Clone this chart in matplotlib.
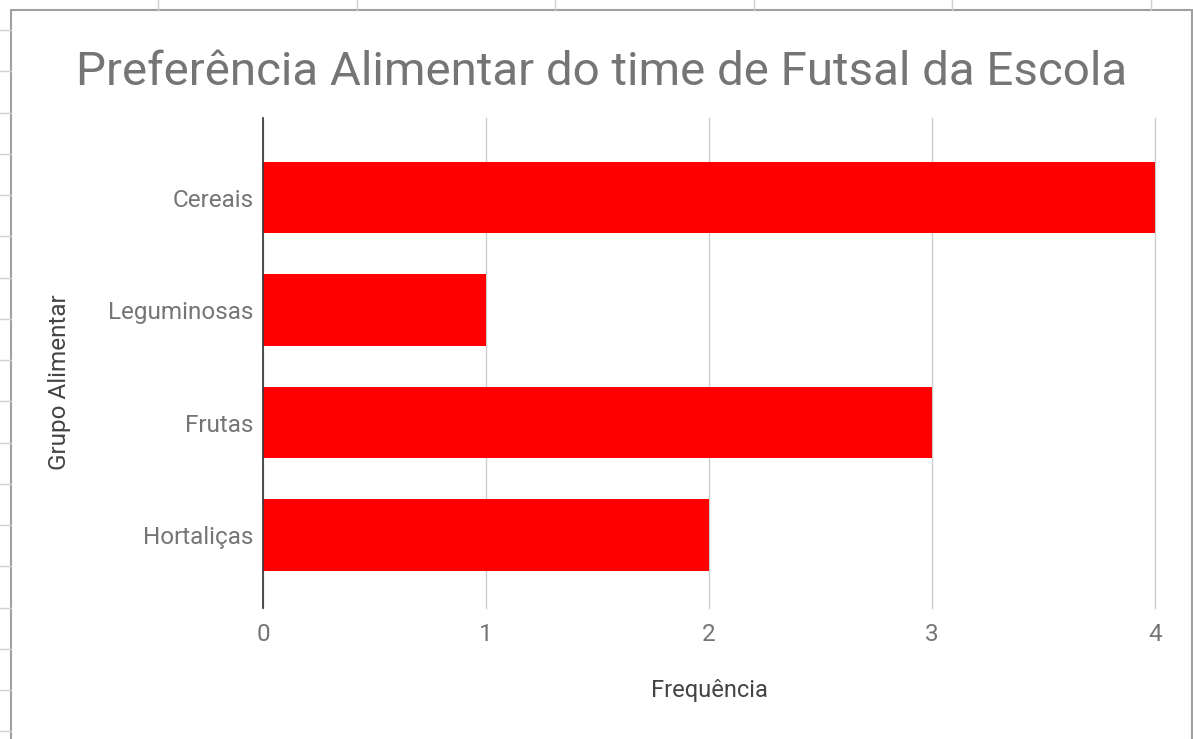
import numpy as np
import matplotlib
matplotlib.use("Agg")
import matplotlib.pyplot as plt
from matplotlib.patches import Rectangle
from matplotlib.lines import Line2D

# Dados
categorias = ["Cereais", "Leguminosas", "Frutas", "Hortaliças"]
frequencias = [4, 1, 3, 2]
xticks = [0, 1, 2, 3, 4]

plt.rcParams["font.family"] = ["Roboto", "DejaVu Sans"]

W, H = 1193, 739
fig = plt.figure(figsize=(W / 100, H / 100), dpi=100)

# fundo da planilha (linhas das células fora do gráfico)
for x in np.arange(158, W, 198.5):
    fig.add_artist(Line2D([x / W, x / W], [1, 1 - 10 / H], color="#d0d0d0", lw=1))
for y in np.arange(30, H, 41.25):
    fig.add_artist(Line2D([0, 11 / W], [1 - y / H, 1 - y / H], color="#d0d0d0", lw=1))

# moldura do gráfico
fig.add_artist(Rectangle((11 / W, -0.01), (W - 12) / W, 1 - 10 / H + 0.01,
                         transform=fig.transFigure, fill=False,
                         edgecolor="#a0a0a0", lw=1.5))

ax = fig.add_axes([263 / W, 1 - 608 / H, (1155 - 263) / W, (608 - 118) / H])

y = np.arange(len(categorias))
ax.barh(y, frequencias, height=0.635, color="#ff0000", zorder=3)

ax.set_xlim(0, 4)
ax.set_ylim(3.65, -0.71)
ax.set_xticks(xticks)
ax.set_xticklabels([str(t) for t in xticks])
ax.set_yticks(y)
ax.set_yticklabels(categorias)

ax.grid(axis="x", color="#cccccc", lw=1, zorder=0)
for gl in ax.get_xgridlines():
    gl.set_clip_on(False)
for s in ["top", "right", "bottom"]:
    ax.spines[s].set_visible(False)
ax.spines["left"].set_color("#333333")
ax.spines["left"].set_linewidth(1.2)
ax.spines["left"].set_zorder(4)

ax.tick_params(axis="both", length=0, labelsize=17.5, labelcolor="#757575")
ax.tick_params(axis="x", pad=11)
ax.tick_params(axis="y", pad=7)

fig.text(602 / W, 1 - 85 / H, "Preferência Alimentar do time de Futsal da Escola",
         ha="center", va="baseline", fontsize=34.2, color="#757575")
fig.text(709 / W, 1 - 691 / H, "Frequência", ha="center", va="center",
         fontsize=17, color="#444444")
fig.text(60 / W, 1 - 382 / H, "Grupo Alimentar", ha="center", va="center",
         rotation=90, fontsize=17.5, color="#444444")

fig.savefig("out.png", dpi=100)
